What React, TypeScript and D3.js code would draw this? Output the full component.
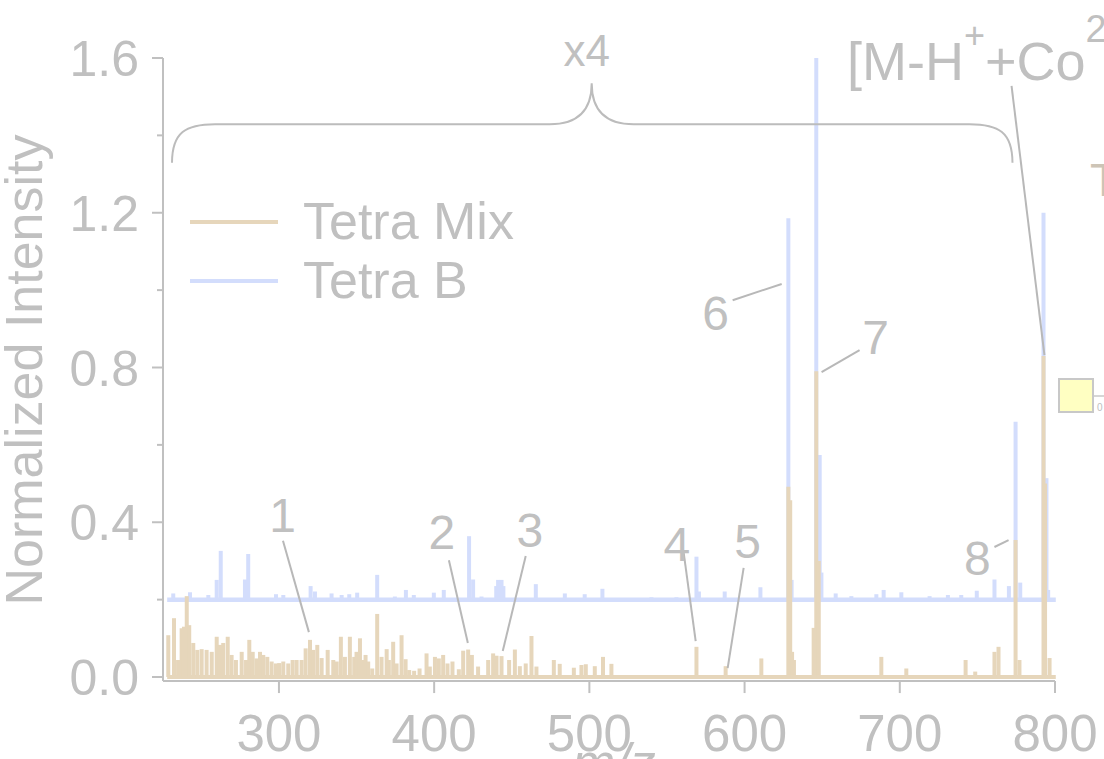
import React from "react";
import * as d3 from "d3";

// Mass spectra: [m/z, normalized intensity]
const tetraMixPeaks: [number, number][] = [
  [228.7, 0.108], [232.4, 0.152], [235.0, 0.044], [237.3, 0.126], [238.8, 0.13], [240.6, 0.209],
  [242.2, 0.134], [244.8, 0.088], [247.4, 0.07], [250.2, 0.072], [253.4, 0.07], [256.7, 0.065],
  [259.9, 0.104], [262.0, 0.083], [264.1, 0.088], [267.0, 0.104], [269.5, 0.057], [272.3, 0.044],
  [276.0, 0.065], [278.8, 0.044], [280.9, 0.096], [283.1, 0.065], [285.6, 0.048], [287.8, 0.065],
  [289.9, 0.057], [292.5, 0.052], [295.3, 0.04], [298.1, 0.035], [300.2, 0.036], [302.8, 0.04],
  [306.0, 0.035], [308.8, 0.044], [311.4, 0.044], [314.6, 0.044], [317.2, 0.074], [320.0, 0.096],
  [322.1, 0.07], [324.7, 0.083], [327.5, 0.049], [331.4, 0.07], [335.0, 0.044], [337.2, 0.04],
  [339.9, 0.104], [342.5, 0.052], [345.7, 0.104], [348.5, 0.052], [350.0, 0.065], [352.2, 0.1],
  [354.3, 0.044], [355.8, 0.057], [357.5, 0.04], [360.1, 0.022], [363.3, 0.163], [366.1, 0.052],
  [369.4, 0.072], [370.8, 0.044], [373.6, 0.091], [375.8, 0.035], [379.0, 0.108], [381.6, 0.046],
  [383.9, 0.018], [387.1, 0.016], [390.6, 0.022], [395.1, 0.061], [397.2, 0.027], [400.5, 0.052],
  [403.0, 0.048], [405.8, 0.057], [408.6, 0.035], [411.8, 0.04], [415.9, 0.02], [418.7, 0.068],
  [421.9, 0.071], [424.3, 0.057], [428.3, 0.027], [434.8, 0.044], [438.0, 0.061], [440.2, 0.055],
  [443.4, 0.054], [448.3, 0.044], [452.0, 0.071], [455.2, 0.028], [459.0, 0.035], [462.7, 0.106],
  [465.9, 0.027], [477.1, 0.044], [480.9, 0.034], [490.0, 0.024], [494.9, 0.031], [497.7, 0.033],
  [503.5, 0.028], [508.8, 0.052], [514.2, 0.034], [569.0, 0.078], [587.8, 0.028], [610.8, 0.048],
  [628.2, 0.492], [629.4, 0.457], [630.6, 0.065], [631.8, 0.044], [644.5, 0.127], [646.2, 0.79],
  [647.8, 0.3], [688.1, 0.052], [704.2, 0.022], [742.4, 0.044], [748.6, 0.014], [761.0, 0.065],
  [763.6, 0.078], [774.6, 0.354], [777.1, 0.044], [792.6, 0.83], [793.6, 0.5], [796.5, 0.049],
];

const tetraBPeaks: [number, number][] = [
  [231.9, 0.016], [242.7, 0.019], [254.5, 0.012], [259.9, 0.051], [262.5, 0.126], [278.1, 0.052],
  [280.2, 0.118], [298.1, 0.014], [302.8, 0.012], [320.4, 0.035], [323.2, 0.021], [333.9, 0.016],
  [340.4, 0.012], [345.3, 0.014], [350.4, 0.018], [363.3, 0.064], [374.7, 0.008], [381.8, 0.025],
  [386.9, 0.012], [399.8, 0.018], [406.2, 0.025], [422.5, 0.164], [425.1, 0.052], [430.5, 0.008],
  [440.0, 0.035], [441.2, 0.051], [443.4, 0.051], [444.6, 0.035], [465.5, 0.04], [484.2, 0.016],
  [497.0, 0.014], [508.4, 0.028], [540.0, 0.006], [556.1, 0.006], [569.0, 0.111], [570.6, 0.021],
  [587.2, 0.021], [610.2, 0.032], [628.2, 0.986], [630.3, 0.051], [646.2, 1.4], [648.4, 0.374],
  [649.5, 0.07], [658.7, 0.016], [668.8, 0.009], [684.9, 0.014], [689.6, 0.025], [701.0, 0.019],
  [719.2, 0.009], [731.0, 0.012], [739.6, 0.012], [749.6, 0.023], [761.0, 0.052], [770.3, 0.035],
  [774.6, 0.46], [777.6, 0.044], [792.6, 1.0], [794.5, 0.314], [795.6, 0.025],
];

const tetraBOffset = 0.2;
const spectrumStart = 228;
const spectrumEnd = 800.5;

const seriesNames = ["Tetra Mix", "Tetra B"];
const xTicks = [300, 400, 500, 600, 700, 800];
const yMajorTicks = [0, 0.4, 0.8, 1.2, 1.6];
const yMinorTicks = [0.2, 0.6, 1.0, 1.4];

// Numbered peak labels: label centre and leader line, in data units
const peakLabels = ["1", "2", "3", "4", "5", "6", "7", "8"];
const peakLabelPos: [number, number][] = [
  [302.4, 0.419], [405.0, 0.375], [461.6, 0.38], [556.3, 0.344],
  [602.0, 0.352], [581.4, 0.941], [684.4, 0.879], [750.0, 0.307],
];
const leaderFrom: [number, number][] = [
  [302.6, 0.352], [409.5, 0.302], [459.0, 0.313], [560.8, 0.32],
  [599.4, 0.282], [592.3, 0.974], [674.1, 0.845], [761.0, 0.336],
];
const leaderTo: [number, number][] = [
  [319.3, 0.116], [421.7, 0.088], [444.2, 0.067], [568.5, 0.093],
  [589.1, 0.023], [623.9, 1.016], [649.6, 0.788], [770.1, 0.354],
];
const parentLabelPos: [number, number] = [666.0, 1.548];
const parentLeader: [number, number][] = [[772.0, 1.528], [793.2, 0.832]];

// Brace spanning the magnified region
const braceRange = [231.1, 501.5, 772.6];
const braceLevels = [1.329, 1.429, 1.535];
const braceText = "x4";

const TAN = "#e6d6bb";
const BLUE = "#d3ddfc";
const GRAY = "#c0c0c0";
const FONT = "'Liberation Sans', Arial, Helvetica, sans-serif";

export default function App() {
  const W = 1104;
  const H = 759;
  const x = d3.scaleLinear().domain([225.3, 800]).range([163, 1055]);
  const y = d3.scaleLinear().domain([0, 1.6]).range([677, 58]);
  const axisBottom = y(-0.0105);
  const axisLeft = x(225.3);

  const line = d3.line<[number, number]>().x((d) => x(d[0])).y((d) => y(d[1]));

  const [bL, bM, bR] = braceRange.map((m) => x(m));
  const [yLow, yBar, yTip] = braceLevels.map((v) => y(v));
  const bracePath = [
    `M${bL},${yLow}`,
    `C${bL},${yBar + 8} ${bL + 14},${yBar} ${bL + 43},${yBar}`,
    `L${bM - 42},${yBar}`,
    `C${bM - 16},${yBar} ${bM},${yBar - 12} ${bM},${yTip}`,
    `C${bM},${yBar - 12} ${bM + 16},${yBar} ${bM + 42},${yBar}`,
    `L${bR - 43},${yBar}`,
    `C${bR - 14},${yBar} ${bR},${yBar + 8} ${bR},${yLow}`,
  ].join(" ");

  return (
    <svg
      width={W}
      height={H}
      viewBox={`0 0 ${W} ${H}`}
      style={{ position: "absolute", left: 0, top: 0, background: "#fff", overflow: "hidden" }}
      fontFamily={FONT}
    >
      {/* Tetra B spectrum, offset upward */}
      <path
        d={line([[spectrumStart, tetraBOffset], [spectrumEnd, tetraBOffset]]) || ""}
        stroke={BLUE}
        strokeWidth={4.5}
        fill="none"
      />
      {tetraBPeaks.map(([m, v], i) => (
        <line
          key={`b${i}`}
          x1={x(m)}
          x2={x(m)}
          y1={y(tetraBOffset)}
          y2={y(tetraBOffset + v)}
          stroke={BLUE}
          strokeWidth={4}
        />
      ))}

      {/* Tetra Mix spectrum */}
      <path d={line([[spectrumStart, 0], [spectrumEnd, 0]]) || ""} stroke={TAN} strokeWidth={4} fill="none" />
      {tetraMixPeaks.map(([m, v], i) => (
        <line key={`t${i}`} x1={x(m)} x2={x(m)} y1={y(0)} y2={y(v)} stroke={TAN} strokeWidth={4} />
      ))}

      {/* Axes */}
      <g stroke={GRAY} strokeWidth={2} fill="none">
        <line x1={axisLeft} x2={axisLeft} y1={y(1.6)} y2={axisBottom} />
        <line x1={axisLeft} x2={x(800)} y1={axisBottom} y2={axisBottom} />
        {yMajorTicks.map((t) => (
          <line key={`ym${t}`} x1={axisLeft - 11} x2={axisLeft} y1={y(t)} y2={y(t)} />
        ))}
        {yMinorTicks.map((t) => (
          <line key={`yn${t}`} x1={axisLeft - 6} x2={axisLeft} y1={y(t)} y2={y(t)} />
        ))}
        {xTicks.map((t) => (
          <line key={`xt${t}`} x1={x(t)} x2={x(t)} y1={axisBottom} y2={axisBottom + 12} />
        ))}
      </g>
      <g fill={GRAY} fontSize={50}>
        {yMajorTicks.map((t) => (
          <text key={`yl${t}`} x={axisLeft - 24} y={y(t) + 18} textAnchor="end">
            {t.toFixed(1)}
          </text>
        ))}
        {xTicks.map((t) => (
          <text key={`xl${t}`} x={x(t)} y={751} textAnchor="middle" fontSize={51}>
            {t}
          </text>
        ))}
        <text transform={`translate(42,370) rotate(-90)`} textAnchor="middle" fontSize={52}>
          Normalized Intensity
        </text>
        <text x={614} y={780} textAnchor="middle" fontStyle="italic" fontSize={52}>
          m/z
        </text>
      </g>

      {/* Legend */}
      <g fontSize={52} fill={GRAY}>
        <line x1={190} x2={278} y1={222} y2={222} stroke={TAN} strokeWidth={4} />
        <text x={303} y={239}>{seriesNames[0]}</text>
        <line x1={190} x2={278} y1={281} y2={281} stroke={BLUE} strokeWidth={4} />
        <text x={303} y={298}>{seriesNames[1]}</text>
      </g>

      {/* Magnification brace */}
      <path d={bracePath} stroke="#bcbcbc" strokeWidth={2} fill="none" />
      <text x={bM - 5} y={66} textAnchor="middle" fontSize={44} fill={GRAY}>
        {braceText}
      </text>

      {/* Peak labels */}
      <g stroke="#b8b8b8" strokeWidth={2}>
        {peakLabels.map((_, i) => (
          <line
            key={`ld${i}`}
            x1={x(leaderFrom[i][0])}
            y1={y(leaderFrom[i][1])}
            x2={x(leaderTo[i][0])}
            y2={y(leaderTo[i][1])}
          />
        ))}
        <line
          x1={x(parentLeader[0][0])}
          y1={y(parentLeader[0][1])}
          x2={x(parentLeader[1][0])}
          y2={y(parentLeader[1][1])}
        />
      </g>
      <g fill={GRAY} fontSize={48} textAnchor="middle">
        {peakLabels.map((s, i) => (
          <text key={`pl${i}`} x={x(peakLabelPos[i][0])} y={y(peakLabelPos[i][1]) + 17}>
            {s}
          </text>
        ))}
      </g>
      <text x={x(parentLabelPos[0])} y={y(parentLabelPos[1]) + 2} fill={GRAY} fontSize={54}>
        [M-H
        <tspan fontSize={36} dy={-32}>+</tspan>
        <tspan dy={32}>+Co</tspan>
        <tspan fontSize={38} dy={-38}>2+</tspan>
      </text>

      {/* Inset marker at the right edge */}
      <text x={1090} y={196} fontSize={46} fill="#cdc4b6">T</text>
      <rect x={1059} y={379} width={34} height={33} fill="#ffffc2" stroke="#c8c8c8" strokeWidth={2} />
      <line x1={1093} x2={1104} y1={396} y2={396} stroke="#c8c8c8" strokeWidth={1.5} />
      <text x={1097} y={411} fontSize={10} fill={GRAY}>0</text>
    </svg>
  );
}
